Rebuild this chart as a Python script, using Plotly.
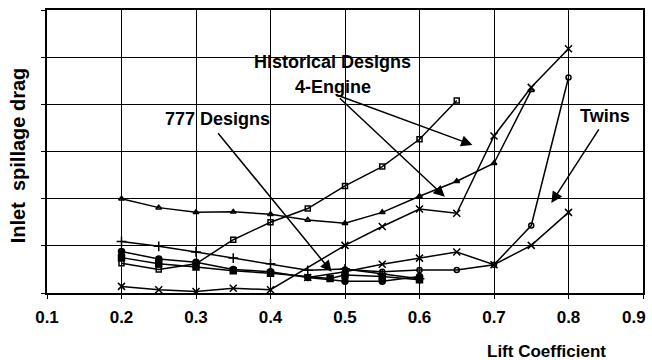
import plotly.graph_objects as go

# Lift coefficient vs. inlet spillage drag for several engine installations
hist_4eng_cl = [0.2, 0.25, 0.3, 0.35, 0.4, 0.45, 0.5, 0.55, 0.6, 0.65, 0.7, 0.75]
hist_4eng_cd = [2.0, 1.81, 1.71, 1.72, 1.67, 1.55, 1.48, 1.71, 2.05, 2.37, 2.75, 4.3]

hist_x_cl = [0.2, 0.25, 0.3, 0.35, 0.4, 0.5, 0.55, 0.6, 0.65, 0.7, 0.75, 0.8]
hist_x_cd = [0.14, 0.07, 0.03, 0.1, 0.07, 1.01, 1.41, 1.78, 1.69, 3.33, 4.36, 5.18]

hist_sq_cl = [0.2, 0.25, 0.3, 0.35, 0.4, 0.45, 0.5, 0.55, 0.6, 0.65]
hist_sq_cd = [0.63, 0.5, 0.62, 1.13, 1.5, 1.79, 2.27, 2.68, 3.26, 4.08]

d777_plus_cl = [0.2, 0.25, 0.3, 0.35, 0.4, 0.45, 0.5, 0.55, 0.6]
d777_plus_cd = [1.09, 0.99, 0.87, 0.74, 0.62, 0.48, 0.51, 0.4, 0.3]

d777_dot_cl = [0.2, 0.25, 0.3, 0.35, 0.4, 0.45, 0.5, 0.55, 0.6]
d777_dot_cd = [0.88, 0.72, 0.65, 0.5, 0.45, 0.33, 0.25, 0.25, 0.35]

d777_sqf_cl = [0.2, 0.25, 0.3, 0.35, 0.4, 0.48, 0.5, 0.55, 0.6]
d777_sqf_cd = [0.75, 0.62, 0.55, 0.47, 0.42, 0.31, 0.38, 0.35, 0.28]

twin_x_cl = [0.45, 0.5, 0.55, 0.6, 0.65, 0.7, 0.75, 0.8]
twin_x_cd = [0.33, 0.45, 0.61, 0.74, 0.87, 0.6, 1.01, 1.71]

twin_o_cl = [0.5, 0.55, 0.6, 0.65, 0.7, 0.75, 0.8]
twin_o_cd = [0.5, 0.45, 0.49, 0.49, 0.6, 1.43, 4.57]

x_ticks = [0.1, 0.2, 0.3, 0.4, 0.5, 0.6, 0.7, 0.8, 0.9]
x_tick_text = ["0.1", "0.2", "0.3", "0.4", "0.5", "0.6", "0.7", "0.8", "0.9"]

series = [
    (hist_4eng_cl, hist_4eng_cd, "triangle-up-open", 5),
    (hist_x_cl, hist_x_cd, "x-thin", 7),
    (hist_sq_cl, hist_sq_cd, "square-open", 5),
    (d777_plus_cl, d777_plus_cd, "cross-thin", 7),
    (d777_dot_cl, d777_dot_cd, "circle", 6),
    (d777_sqf_cl, d777_sqf_cd, "square", 6),
    (twin_x_cl, twin_x_cd, "x-thin", 7),
    (twin_o_cl, twin_o_cd, "circle-open", 5),
]

fig = go.Figure()
for xs, ys, sym, sz in series:
    fig.add_trace(go.Scatter(
        x=xs, y=ys, mode="lines+markers",
        line=dict(color="black", width=1.5),
        marker=dict(symbol=sym, size=sz, color="black",
                    line=dict(color="black", width=1.5)),
        showlegend=False, hoverinfo="skip",
    ))

lbl_font = dict(family="Liberation Sans, Arial", size=18, color="black", weight="bold")

fig.add_annotation(x=0.4837, y=4.90, xref="x", yref="y",
                   text="Historical Designs", showarrow=False, font=lbl_font)
fig.add_annotation(x=0.4837, y=4.37, xref="x", yref="y",
                   text="4-Engine", showarrow=False, font=lbl_font)
fig.add_annotation(x=0.3284, y=3.69, xref="x", yref="y",
                   text="777 Designs", showarrow=False, font=lbl_font)
fig.add_annotation(x=0.8496, y=3.755, xref="x", yref="y",
                   text="Twins", showarrow=False, font=lbl_font)

# pointer arrows from the labels to the curves: (tail_x, tail_y, tip_x, tip_y)
arrows = [
    (0.487, 4.21, 0.671, 3.14),
    (0.491, 4.16, 0.634, 2.04),
    (0.328, 3.42, 0.482, 0.45),
    (0.842, 3.50, 0.777, 1.91),
]
for tx, ty, hx, hy in arrows:
    fig.add_annotation(x=hx, y=hy, ax=tx, ay=ty, xref="x", yref="y",
                       axref="x", ayref="y", text="", showarrow=True,
                       arrowhead=2, arrowsize=1.5, arrowwidth=1.5,
                       arrowcolor="black")

fig.update_layout(
    width=652, height=360,
    margin=dict(l=47, r=7, t=10, b=67),
    paper_bgcolor="white", plot_bgcolor="white",
    font=dict(family="Liberation Sans, Arial", color="black"),
)
fig.update_xaxes(
    range=[0.1, 0.9], tickvals=x_ticks, ticktext=x_tick_text[:-1] + [""],
    showgrid=True, gridcolor="black", gridwidth=1.3,
    showline=True, linecolor="black", linewidth=2, mirror=True,
    ticks="outside", ticklen=4, tickcolor="black",
    tickfont=dict(size=17, weight="bold"), ticklabelstandoff=4,
    zeroline=False,
)
fig.update_yaxes(
    range=[0, 6], dtick=1, showticklabels=False,
    showgrid=True, gridcolor="black", gridwidth=1.3,
    showline=True, linecolor="black", linewidth=2, mirror=True,
    ticks="outside", ticklen=4, tickcolor="black",
    zeroline=False,
)
# last tick label sits against the page edge
fig.add_annotation(x=1.009, y=-0.088, xref="paper", yref="paper",
                   text=x_tick_text[-1], showarrow=False,
                   xanchor="right", yanchor="middle",
                   font=dict(size=17, weight="bold"))
fig.add_annotation(x=-0.048, y=0.488, xref="paper", yref="paper",
                   text="Inlet  spillage drag", textangle=-90, showarrow=False,
                   xanchor="center", yanchor="middle",
                   font=dict(size=20, weight="bold"))
fig.add_annotation(x=0.838, y=-0.205, xref="paper", yref="paper",
                   text="Lift Coefficient", showarrow=False,
                   xanchor="center", yanchor="middle",
                   font=dict(size=17, weight="bold"))

fig.write_html("out.html")
